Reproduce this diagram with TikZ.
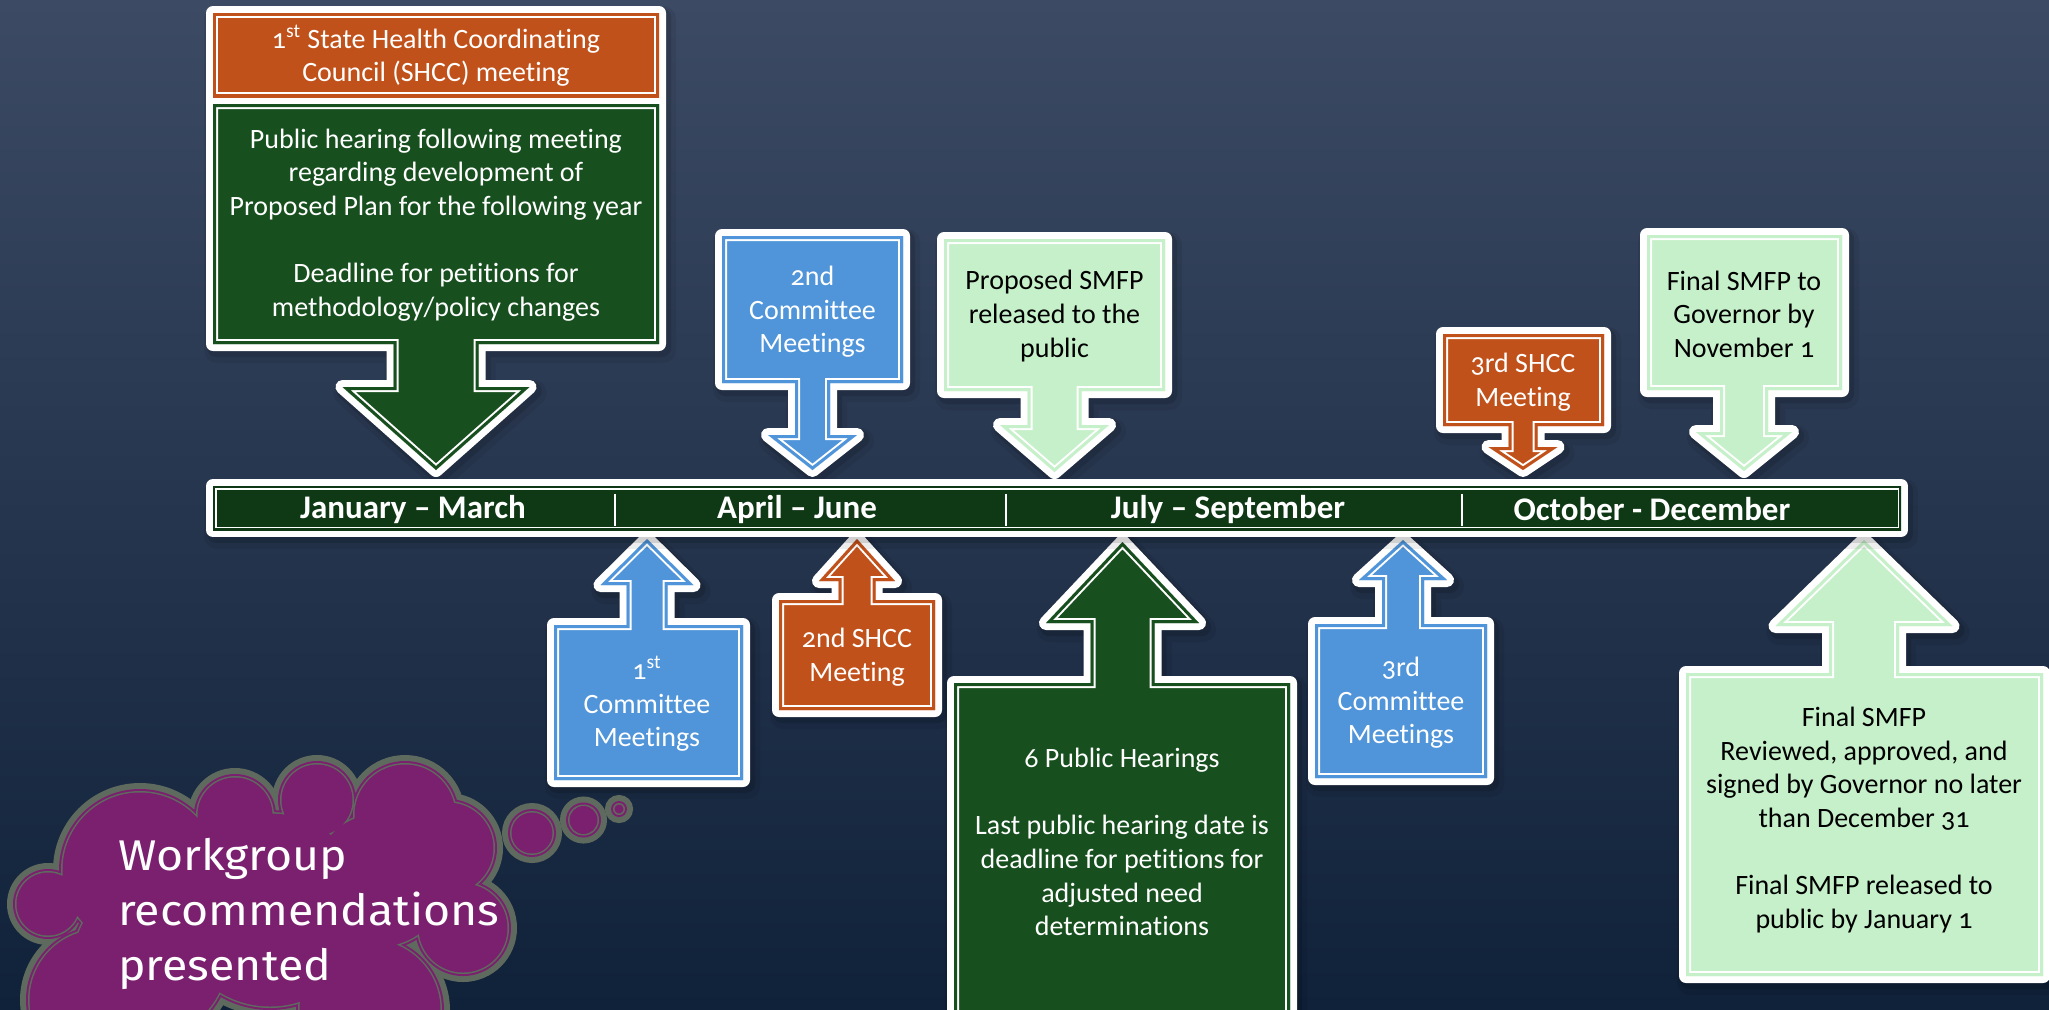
\documentclass[tikz,border=0pt]{standalone}
\usepackage{fontspec}
\setmainfont{Carlito}[Ligatures=NoCommon]
\newfontfamily\callfont[Numbers=OldStyle,Ligatures=NoCommon]{Carlito}
\newfontfamily\cloudfont[FakeStretch=1.08]{Fira Sans}
\definecolor{bgtop}{HTML}{3C4A63}
\definecolor{bgbot}{HTML}{10213A}
\definecolor{dkgreen}{HTML}{17501E}
\definecolor{bargreen}{HTML}{0F3815}
\definecolor{orangeC}{HTML}{C1511A}
\definecolor{blueC}{HTML}{5095D9}
\definecolor{ltgreen}{HTML}{C5F0C9}
\definecolor{purpleC}{HTML}{7A206E}
\definecolor{cloudgray}{HTML}{5F6A5E}

% #1 L, #2 R, #3 far edge, #4 edge with stem, #5 centre x, #6 stem half width,
% #7 head base, #8 head half width, #9 tip
\newcommand\setdown[9]{\def\cpath{(#1,#3) -- (#2,#3) -- (#2,#4) -- ({#5+#6},#4) -- ({#5+#6},#7) -- ({#5+#8},#7) -- (#5,#9) -- ({#5-#8},#7) -- ({#5-#6},#7) -- ({#5-#6},#4) -- (#1,#4) -- cycle}}
\newcommand\cshadow{%
  \draw[black, opacity=0.07, line width=13pt, line join=round, shift={(4,6)}] \cpath;
  \draw[black, opacity=0.12, line width=9pt, line join=round, shift={(3,4)}] \cpath;}
\newcommand\whiteouter{\draw[white, line width=7pt, line join=round, fill=white] \cpath;}
\newcommand\innerfill[1]{%
  \fill[#1] \cpath;
  \begin{scope}
    \clip \cpath;
    \draw[white, line width=5pt] \cpath;
    \draw[#1, line width=3pt] \cpath;
  \end{scope}}

\tikzset{
  wtxt/.style={align=center, text=white, font=\callfont\fontsize{14}{16.8}\selectfont, inner sep=0pt},
  btxt/.style={wtxt, text=black},
  bartxt/.style={text=white, font=\callfont\bfseries\fontsize{16.5}{19}\selectfont, inner sep=0pt},
  cloudtxt/.style={text=white, font=\cloudfont\fontsize{21.5}{26}\selectfont, inner sep=0pt, anchor=base west},
  divider/.style={white, line width=0.7pt}
}

\begin{document}
\begin{tikzpicture}[x=0.5pt,y=-0.5pt]
\clip (0,0) rectangle (2049,1009);
\shade[top color=bgtop, bottom color=bgbot] (0,0) rectangle (2049,1009);

% ---------- callout shapes ----------
\setdown{213}{659}{13}{344}{436}{42.5}{387}{93.5}{470}\let\pA\cpath
\setdown{722}{903}{236}{383}{812.5}{17.5}{435}{44.5}{470}\let\pB\cpath
\setdown{944}{1165}{239}{391}{1054.5}{27}{425}{54.5}{472}\let\pC\cpath
\setdown{1443}{1604}{334}{426}{1523}{14.5}{447}{34.5}{470}\let\pD\cpath
\setdown{1647}{1842}{235}{390}{1744}{24}{432}{48}{471}\let\pE\cpath
\setdown{554}{743}{780}{625}{647}{20.5}{585}{46.5}{539}\let\pF\cpath
\setdown{779}{935}{710}{600}{857}{18.5}{581}{38}{539}\let\pG\cpath
\setdown{954}{1290}{1015}{683}{1122.5}{32}{623}{76.5}{542}\let\pH\cpath
\setdown{1315}{1487}{778}{624}{1403}{21}{580}{44}{540}\let\pI\cpath
\setdown{1686}{2043}{976}{673}{1864}{35}{626}{88.5}{540}\let\pJ\cpath

% shadows first
\let\cpath\pA\cshadow \let\cpath\pB\cshadow \let\cpath\pC\cshadow
\let\cpath\pD\cshadow \let\cpath\pE\cshadow \let\cpath\pF\cshadow
\let\cpath\pG\cshadow \let\cpath\pH\cshadow \let\cpath\pI\cshadow
\let\cpath\pJ\cshadow

% callout 1 (orange header + green body)
\let\cpath\pA \whiteouter
\def\cpath{(213,13) rectangle (659,97)}\innerfill{orangeC}
\setdown{213}{659}{104}{344}{436}{42.5}{387}{93.5}{470}\innerfill{dkgreen}

\let\cpath\pB \whiteouter \innerfill{blueC}
\let\cpath\pC \whiteouter \innerfill{ltgreen}
\let\cpath\pD \whiteouter \innerfill{orangeC}
\let\cpath\pE \whiteouter \innerfill{ltgreen}
\let\cpath\pF \whiteouter \innerfill{blueC}
\let\cpath\pG \whiteouter \innerfill{orangeC}
\let\cpath\pH \whiteouter \innerfill{dkgreen}
\let\cpath\pI \whiteouter \innerfill{blueC}
\let\cpath\pJ \whiteouter \innerfill{ltgreen}

% ---------- timeline bar ----------
\def\cpath{(213,486) rectangle (1901,530)}
\cshadow
\whiteouter
\fill[bargreen] \cpath;
\begin{scope}
  \clip \cpath;
  \draw[white, line width=3.5pt] \cpath;
  \draw[bargreen, line width=2pt] \cpath;
\end{scope}
\node[bartxt] (q1) at (413,509) {January – March};
\node[bartxt] (q2) at (797,509) {April – June};
\node[bartxt] (q3) at (1228,509) {July – September};
\node[bartxt] (q4) at (1652,509) {October - December};
\draw[divider] (615,494) -- (615,526);
\draw[divider] (1006,494) -- (1006,526);
\draw[divider] (1462,494) -- (1462,526);

% ---------- callout texts ----------
\node[wtxt] (t1head) at (436,56) {1\textsuperscript{st} State Health Coordinating\\Council (SHCC) meeting};
\node[wtxt] (t1body) at (436,225) {Public hearing following meeting\\regarding development of\\Proposed Plan for the following year\\[16.8pt]Deadline for petitions for\\methodology/policy changes};
\node[wtxt] (t2) at (812.5,312) {2nd\\Committee\\Meetings};
\node[btxt] (t3) at (1054.5,316) {Proposed SMFP\\released to the\\public};
\node[wtxt] (t4) at (1523,382) {3rd SHCC\\Meeting};
\node[btxt] (t5) at (1744,314) {Final SMFP to\\Governor by\\November 1};
\node[wtxt] (t6) at (647,704) {1\textsuperscript{st}\\Committee\\Meetings};
\node[wtxt] (t7) at (857,657) {2nd SHCC\\Meeting};
\node[wtxt] (t8) at (1122,842) {6 Public Hearings\\[16.8pt]Last public hearing date is\\deadline for petitions for\\adjusted need\\determinations};
\node[wtxt] (t9) at (1401,703) {3rd\\Committee\\Meetings};
\node[btxt] (t10) at (1864,820) {Final SMFP\\Reviewed, approved, and\\signed by Governor no later\\than December 31\\[16.8pt]Final SMFP released to\\public by January 1};

% ---------- thought cloud ----------
\def\cloudlist{100/1000/74, 48/904/35, 140/870/81, 235/815/41, 317/800/39, 405/815/54, 448/848/49, 463/928/48, 370/1010/74, 270/910/100, 150/960/80, 380/880/70, 532/833/24, 583.5/820/17.5, 619/809/8}
\foreach \cx/\cy/\r in \cloudlist {\draw[cloudgray, line width=6pt] (\cx,\cy) circle[radius=\r];}
\fill[purpleC] \foreach \cx/\cy/\r in \cloudlist {(\cx,\cy) circle[radius=\r]};
\fill[cloudgray] \foreach \cx/\cy/\r in \cloudlist {(\cx,\cy) circle[radius=\r-2]};
\fill[purpleC] \foreach \cx/\cy/\r in \cloudlist {(\cx,\cy) circle[radius=\r-3.5]};
\node[cloudtxt] (c1) at (118,870) {Workgroup};
\node[cloudtxt] (c2) at (118,925) {recommendations};
\node[cloudtxt] (c3) at (118,980) {presented};
\end{tikzpicture}
\end{document}
